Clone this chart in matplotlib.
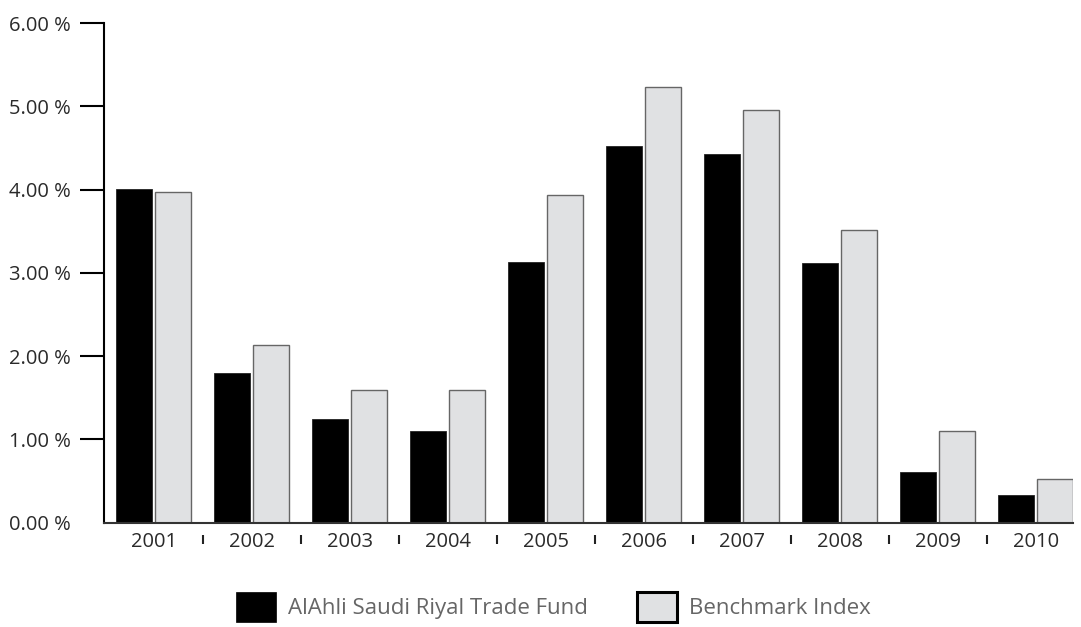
import matplotlib.pyplot as plt
import numpy as np
from matplotlib.patches import Patch
from matplotlib.transforms import blended_transform_factory

plt.rcParams["font.family"] = ["Open Sans", "DejaVu Sans"]

years = ["2001", "2002", "2003", "2004", "2005", "2006", "2007", "2008", "2009", "2010"]
fund = [4.01, 1.80, 1.24, 1.10, 3.13, 4.52, 4.43, 3.12, 0.61, 0.33]
benchmark = [3.97, 2.13, 1.59, 1.59, 3.94, 5.23, 4.96, 3.52, 1.10, 0.52]
yticks = [0, 1, 2, 3, 4, 5, 6]
series_names = ["AlAhli Saudi Riyal Trade Fund", "Benchmark Index"]

fig = plt.figure(figsize=(10.81, 6.27), dpi=100)
ax = fig.add_axes([0.0962, 0.1663, 0.8968, 0.797])

x = np.arange(len(years))
w = 0.367
ax.bar(x - 0.2, fund, w, color="black", edgecolor="#222222", linewidth=0.6)
ax.bar(x + 0.2, benchmark, w, color="#e0e1e3", edgecolor="#666666", linewidth=1.0)

ax.set_xlim(-0.507, 9.385)
ax.set_ylim(0, 6)

# axes styling
for s in ["top", "right"]:
    ax.spines[s].set_visible(False)
ax.spines["left"].set_linewidth(1.5)
ax.spines["left"].set_color("black")
ax.spines["bottom"].set_linewidth(1.5)
ax.spines["bottom"].set_color("#333333")

ax.set_yticks(yticks)
ax.set_yticklabels([f"{v:.2f} %" for v in yticks])
ax.tick_params(axis="y", direction="out", length=17.5, width=1.5, pad=6.5,
               labelsize=14.5, labelcolor="#2a2a2a", color="black")
ax.yaxis.get_major_ticks()[0].tick1line.set_visible(False)

ax.set_xticks(x)
ax.set_xticklabels(years)
ax.tick_params(axis="x", length=0, pad=7, labelsize=14.5, labelcolor="#2a2a2a")

# little separator marks between groups, below the axis
trans = blended_transform_factory(ax.transData, ax.transAxes)
ax.vlines(x[:-1] + 0.5, -0.0426, -0.0246, transform=trans, colors="#222222",
          linewidth=1.5, clip_on=False)

handles = [
    Patch(facecolor="black", edgecolor="black", linewidth=0.5),
    Patch(facecolor="#e0e1e3", edgecolor="black", linewidth=2.2),
]
fig.legend(handles, series_names, loc="center", bbox_to_anchor=(553.5 / 1081, 1 - 607 / 627),
           ncol=2, frameon=False, fontsize=16, labelcolor="#666666",
           handlelength=1.8, handleheight=1.7, handletextpad=0.55, columnspacing=2.2,
           borderpad=0, borderaxespad=0)

fig.savefig("out.png", dpi=100)
